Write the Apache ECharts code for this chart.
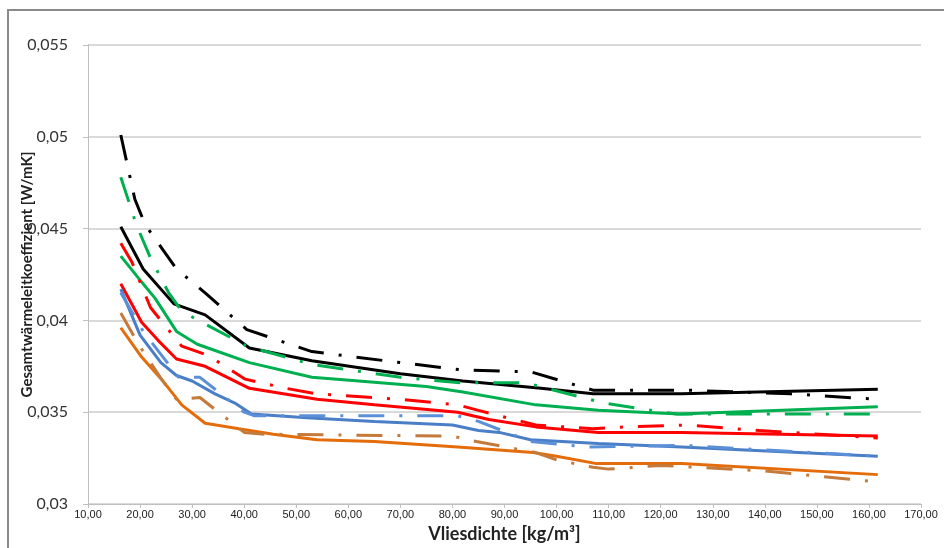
<!DOCTYPE html>
<html>
<head>
<meta charset="utf-8">
<script src="https://cdn.jsdelivr.net/npm/echarts@6/dist/echarts.min.js"></script>
<style>
  html, body { margin: 0; padding: 0; background: #fff; }
  #chart { width: 944px; height: 548px; }
</style>
</head>
<body>
<div id="chart"></div>
<script>
// Messwerte [Vliesdichte, Gesamtwärmeleitkoeffizient]
let blackSolid = [[16.3, 0.0451], [20.6, 0.0428], [26.5, 0.0409], [32.5, 0.0403], [41, 0.0385], [53, 0.0378], [70, 0.0371], [82, 0.0367], [97, 0.0363], [107, 0.0360], [124, 0.0360], [161.7, 0.03625]];
let blackDash = [[16.3, 0.0501], [19, 0.0466], [21, 0.0452], [27, 0.0428], [32.5, 0.0415], [40.5, 0.0395], [53, 0.0383], [70, 0.0377], [82, 0.0373], [95, 0.0372], [107, 0.0362], [125, 0.0362], [145, 0.0360], [161.7, 0.0357]];
let greenSolid = [[16.3, 0.0435], [19.7, 0.0423], [22.9, 0.0412], [27, 0.0394], [31, 0.0387], [41, 0.0377], [53, 0.0369], [62, 0.0367], [75, 0.0364], [82, 0.0361], [96, 0.0354], [108, 0.0351], [123.7, 0.0349], [161.7, 0.0353]];
let greenDash = [[16.3, 0.0478], [19.3, 0.0452], [22, 0.0434], [25.5, 0.0415], [28, 0.0405], [32.5, 0.0398], [40.5, 0.0386], [53, 0.0376], [70, 0.0369], [81.5, 0.0366], [94, 0.0366], [109, 0.0355], [123, 0.0349], [161.7, 0.0349]];
let redSolid = [[16.3, 0.0420], [20.3, 0.0399], [23.5, 0.0389], [27, 0.0379], [32.5, 0.0375], [41, 0.0363], [54, 0.0357], [65, 0.0354], [81, 0.0350], [87, 0.0346], [96, 0.0342], [108, 0.0339], [124, 0.0339], [161.7, 0.0337]];
let redDash = [[16.3, 0.0442], [18.4, 0.0432], [22, 0.0407], [28, 0.0386], [33, 0.0381], [40.2, 0.0368], [48, 0.0363], [54, 0.0360], [70, 0.0357], [81, 0.0354], [85, 0.0351], [96, 0.0343], [107, 0.0341], [113, 0.0342], [125, 0.0343], [139, 0.0340], [161.7, 0.0336]];
let blueSolid = [[16.3, 0.0417], [20, 0.0392], [24, 0.0377], [27, 0.0370], [30, 0.0367], [34.4, 0.0360], [38.2, 0.0355], [41.4, 0.0349], [52, 0.0347], [65, 0.0345], [80, 0.0343], [85, 0.0340], [89, 0.0339], [95, 0.0335], [108, 0.0333], [124, 0.0331], [161.7, 0.0326]];
let blueDash = [[16.3, 0.0415], [20.6, 0.0394], [27.4, 0.0369], [31.5, 0.0369], [40, 0.0350], [42, 0.0348], [81, 0.0348], [85, 0.0345], [95, 0.0334], [106, 0.0331], [124, 0.0332], [161.7, 0.0326]];
let orangeSolid = [[16.3, 0.0396], [20.3, 0.0380], [24.1, 0.0368], [28, 0.0354], [32.5, 0.0344], [39, 0.0341], [45.6, 0.0338], [54, 0.0335], [65, 0.0334], [81, 0.0331], [95.5, 0.0328], [100, 0.0326], [107.7, 0.0322], [124, 0.0322], [161.7, 0.0316]];
let orangeDash = [[16.3, 0.0404], [19.7, 0.0387], [24.1, 0.0368], [27, 0.0357], [31.5, 0.0358], [40, 0.0339], [44, 0.0338], [80, 0.0337], [84.6, 0.0334], [96, 0.0328], [100, 0.0324], [107, 0.0320], [110, 0.0319], [120, 0.0321], [140, 0.0318], [161.7, 0.0312]];

let dom = document.getElementById("chart");
let myChart = echarts.init(dom, null, { renderer: "canvas" });

let dashDot = [26, 15, 3, 15];

function line(name, data, color, dashed) {
  return {
    name: name,
    type: "line",
    data: data,
    showSymbol: false,
    symbol: "none",
    lineStyle: {
      color: color,
      width: 3,
      type: dashed ? dashDot : "solid",
      cap: "butt",
    },
    z: dashed ? 3 : 2,
  };
}

let option = {
  animation: false,
  backgroundColor: "#fff",
  graphic: [
    {
      type: "rect",
      shape: { x: 8, y: 10, width: 960, height: 560 },
      style: { fill: "none", stroke: "#8a8a8a", lineWidth: 2 },
      silent: true,
    },
  ],
  grid: { left: 88, right: 23, top: 45, bottom: 42 },
  xAxis: {
    type: "value",
    min: 10,
    max: 170,
    interval: 10,
    name: "Vliesdichte [kg/m³]",
    nameLocation: "middle",
    nameGap: 21,
    nameMoveOverlap: false,
    nameTextStyle: { fontFamily: "Lato", fontWeight: "bold", fontSize: 18, color: "#222" },
    axisLine: { show: true, lineStyle: { color: "#bfbfbf", width: 1 } },
    axisTick: { show: true, length: 4, lineStyle: { color: "#bfbfbf" } },
    splitLine: { show: false },
    axisLabel: {
      fontFamily: "Liberation Sans Narrow, Liberation Sans",
      fontSize: 11,
      color: "#222",
      margin: 5,
      formatter: v => v.toFixed(2).replace(".", ","),
    },
  },
  yAxis: {
    type: "value",
    min: 0.03,
    max: 0.055,
    interval: 0.005,
    name: "Gesamtwärmeleitkoeffizient [W/mK]",
    nameLocation: "middle",
    nameRotate: 90,
    nameGap: 53,
    nameMoveOverlap: false,
    nameTextStyle: { fontFamily: "Lato", fontWeight: "bold", fontSize: 15, color: "#222" },
    axisLine: { show: true, lineStyle: { color: "#bfbfbf", width: 1 } },
    axisTick: { show: true, length: 5, lineStyle: { color: "#bfbfbf" } },
    splitLine: { show: true, lineStyle: { color: "#d9d9d9", width: 2 } },
    axisLabel: {
      fontFamily: "Lato",
      fontSize: 16,
      color: "#333",
      margin: 20,
      formatter: v => String(+v.toFixed(4)).replace(".", ","),
    },
  },
  series: [
    line("schwarz", blackSolid, "#000000", false),
    line("schwarz 2", blackDash, "#000000", true),
    line("grün", greenSolid, "#00b050", false),
    line("grün 2", greenDash, "#00b050", true),
    line("rot", redSolid, "#ff0000", false),
    line("rot 2", redDash, "#ff0000", true),
    line("blau", blueSolid, "#4a7ec6", false),
    line("blau 2", blueDash, "#5b90d8", true),
    line("orange", orangeSolid, "#e46c0a", false),
    line("orange 2", orangeDash, "#c47a3a", true),
  ],
};

myChart.setOption(option);
window.addEventListener("resize", myChart.resize);
</script>
</body>
</html>
